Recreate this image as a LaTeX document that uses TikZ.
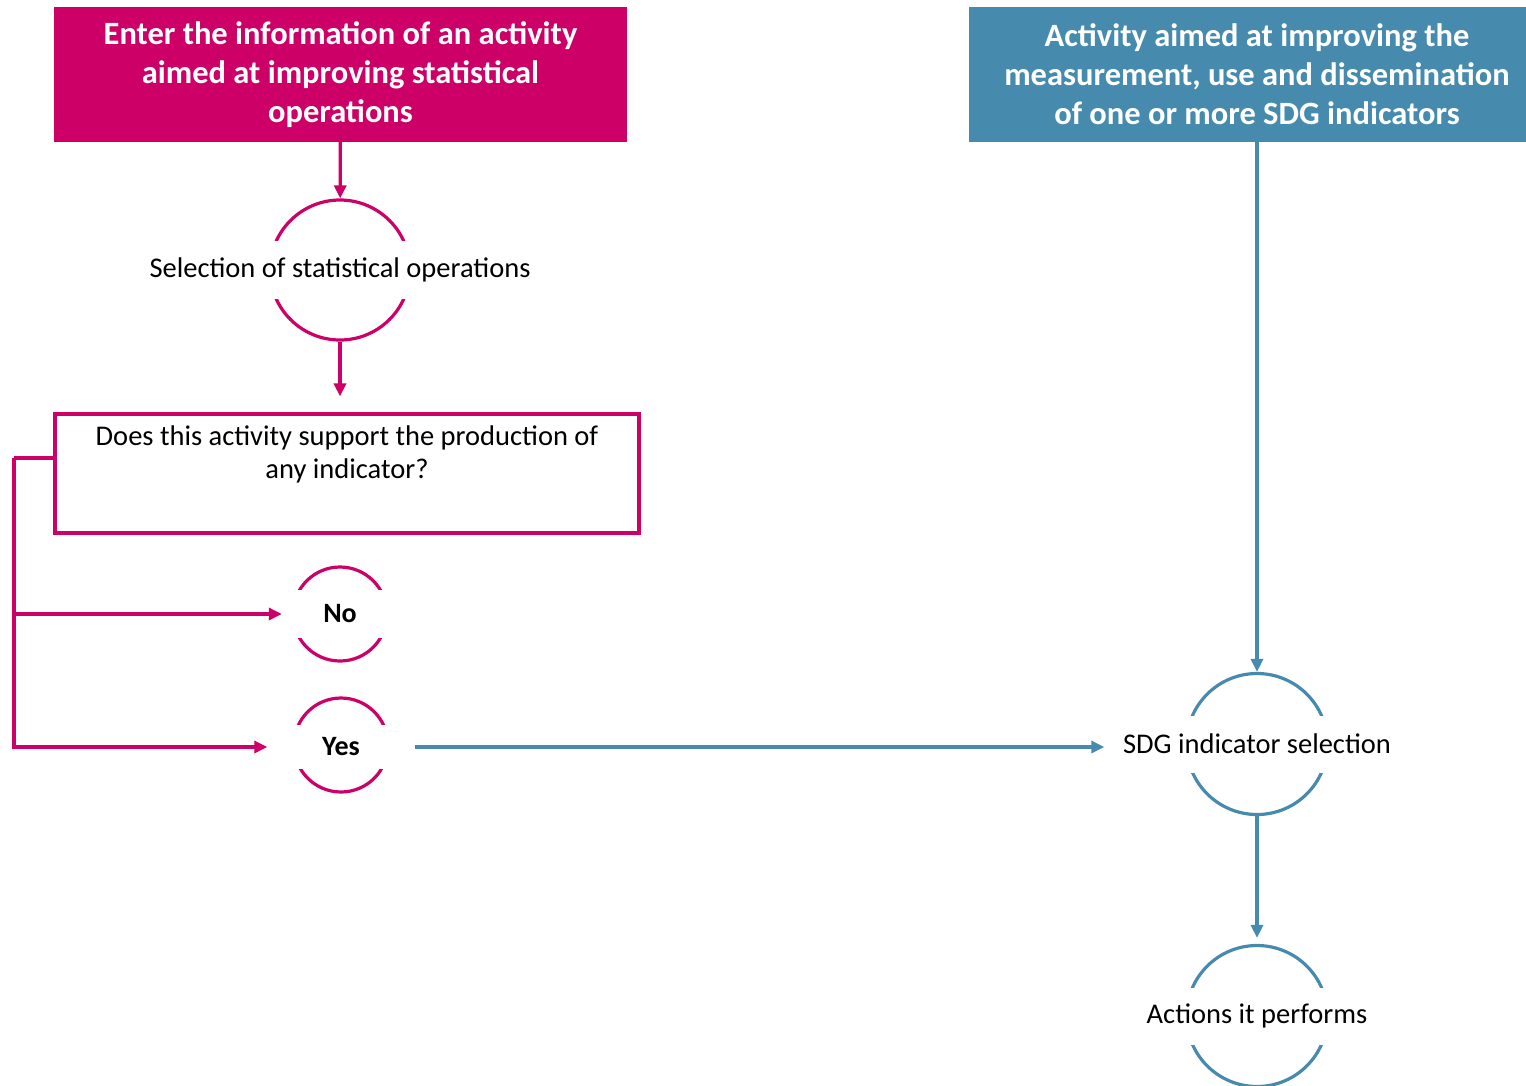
\documentclass[tikz,border=0pt]{standalone}
\usepackage{fontspec}
\setmainfont{Carlito}
\usetikzlibrary{arrows.meta,positioning}
\definecolor{sdgpink}{RGB}{204,0,102}
\definecolor{sdgblue}{RGB}{70,139,174}

\tikzset{
  headbox/.style={rectangle, fill=#1, text=white, inner sep=0pt, align=center,
    font=\fontsize{32.5}{39}\selectfont\bfseries},
  ring/.style={circle, draw=#1, line width=3.2pt, inner sep=0pt},
  ringlabel/.style={rectangle, fill=white, inner sep=0pt,
    font=\fontsize{28.5}{33}\selectfont},
  answer/.style={ringlabel, font=\fontsize{28}{33}\selectfont\bfseries},
  pinkline/.style={draw=sdgpink, line width=3.2pt, -{Triangle[length=13pt,width=12pt]}},
  blueline/.style={draw=sdgblue, line width=3.2pt, -{Triangle[length=13pt,width=12pt]}}
}

\begin{document}
\begin{tikzpicture}[x=1pt,y=-1pt]
\useasboundingbox (0,0) rectangle (1526,1085);

% headers
\node[headbox=sdgpink, minimum width=573pt, minimum height=135pt] (enter) at (340.5,74.5)
  {Enter the information of an activity\\aimed at improving statistical\\operations};
\node[headbox=sdgblue, minimum width=576pt, minimum height=135pt] (sdgact) at (1257,74.5)
  {Activity aimed at improving the\\measurement, use and dissemination\\of one or more SDG indicators};

% rings
\node[ring=sdgpink, minimum size=140pt] (sel) at (340,270) {};
\node[ring=sdgpink, minimum size=94pt] (no) at (340,614) {};
\node[ring=sdgpink, minimum size=94pt] (yes) at (341,745) {};
\node[ring=sdgblue, minimum size=141pt] (sdg) at (1257,744) {};
\node[ring=sdgblue, minimum size=141pt] (act) at (1257,1016) {};

% question box
\node[draw=sdgpink, line width=3.2pt, rectangle, minimum width=584pt, minimum height=119pt,
  inner sep=0pt, align=center, font=\fontsize{28.5}{33}\selectfont] (q) at (347,473.5)
  {Does this activity support the production of\\any indicator?\\\strut};

% connectors
\coordinate (spine) at (14,458);
\draw[pinkline] (enter) -- (sel);
\draw[pinkline, shorten >=16pt] (sel) -- (sel |- q.north);

\node[ringlabel, minimum width=390pt, minimum height=58pt] (seltext) at (sel) {Selection of statistical operations};
\node[answer, minimum width=116pt, minimum height=48pt] (notext) at (no) {No};
\node[answer, minimum width=147pt, minimum height=44pt] (yestext) at (341,747) {Yes};
\node[ringlabel, minimum width=305pt, minimum height=57pt] (sdgtext) at (sdg) {SDG indicator selection};
\node[ringlabel, minimum width=260pt, minimum height=57pt] (acttext) at (act) {Actions it performs};

\draw[pinkline, -] ([yshift=15.5pt]q.west) -- (spine);
\draw[pinkline] (spine) |- (notext.west);
\draw[pinkline] (spine) |- (yestext.west);
\draw[blueline] (yestext.east) -- (yestext.east -| sdgtext.west);
\draw[blueline] (sdgact) -- (sdg);
\draw[blueline, shorten >=6pt] (sdg) -- (act);
\end{tikzpicture}
\end{document}
